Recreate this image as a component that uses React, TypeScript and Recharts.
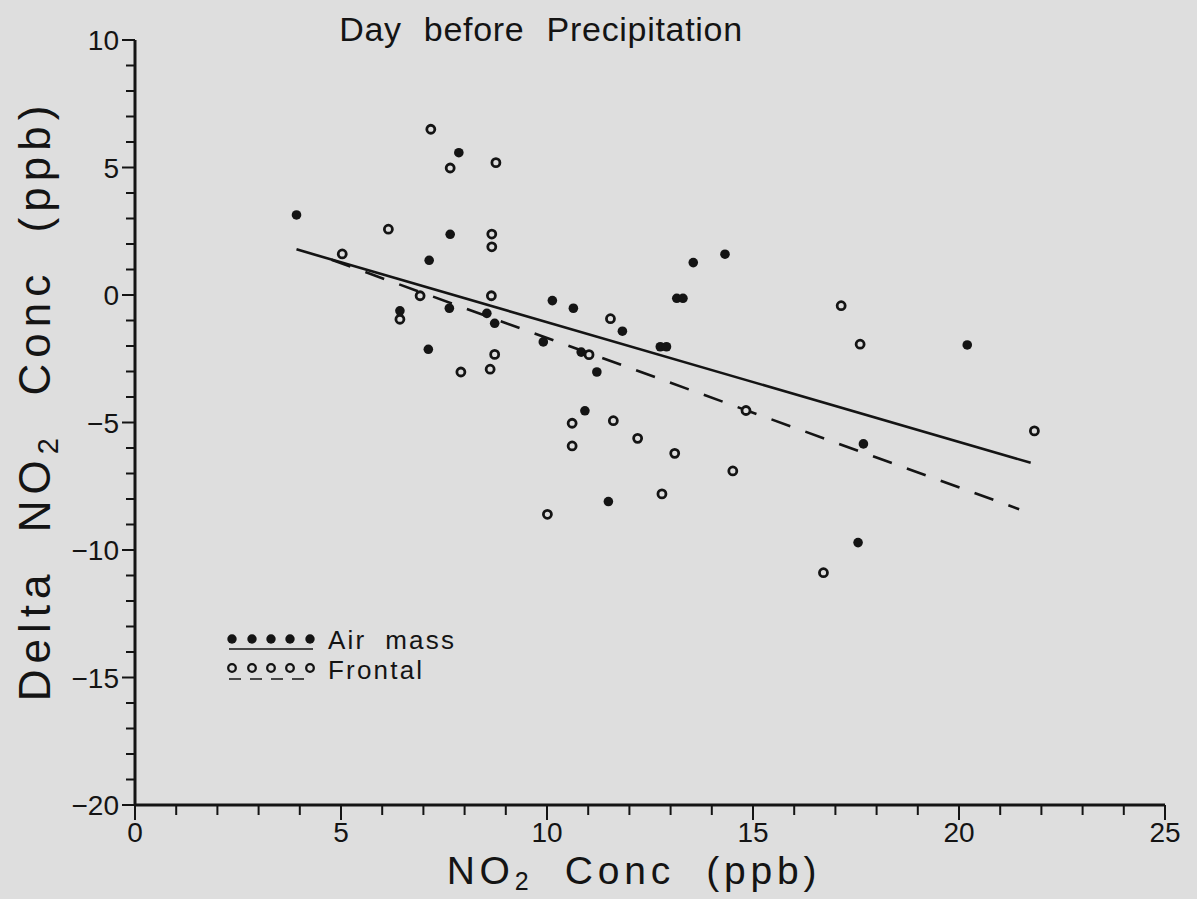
import React from 'react'
import { ScatterChart, Scatter, XAxis, YAxis, Label } from 'recharts'

const INK = '#141414'
const PAPER = '#dedede'
const FONT = '"Liberation Sans", Arial, sans-serif'

// filled dots
const airMass = [
  { x: 3.92, y: 3.14 }, { x: 7.86, y: 5.58 }, { x: 7.65, y: 2.38 }, { x: 7.14, y: 1.36 },
  { x: 6.43, y: -0.62 }, { x: 7.63, y: -0.52 }, { x: 8.54, y: -0.72 }, { x: 8.73, y: -1.11 },
  { x: 10.13, y: -0.22 }, { x: 9.91, y: -1.84 }, { x: 7.12, y: -2.13 }, { x: 13.55, y: 1.27 },
  { x: 14.32, y: 1.6 }, { x: 13.15, y: -0.13 }, { x: 13.3, y: -0.13 }, { x: 10.64, y: -0.52 },
  { x: 11.83, y: -1.42 }, { x: 12.75, y: -2.03 }, { x: 12.9, y: -2.03 }, { x: 10.83, y: -2.24 },
  { x: 11.21, y: -3.02 }, { x: 10.92, y: -4.54 }, { x: 11.49, y: -8.1 }, { x: 20.2, y: -1.96 },
  { x: 17.68, y: -5.84 }, { x: 17.55, y: -9.71 },
]

// open circles
const frontal = [
  { x: 7.18, y: 6.5 }, { x: 7.65, y: 4.98 }, { x: 8.76, y: 5.19 }, { x: 6.15, y: 2.58 },
  { x: 8.66, y: 2.39 }, { x: 8.66, y: 1.89 }, { x: 5.03, y: 1.61 }, { x: 6.92, y: -0.03 },
  { x: 8.65, y: -0.03 }, { x: 6.43, y: -0.95 }, { x: 8.73, y: -2.33 }, { x: 7.91, y: -3.02 },
  { x: 8.62, y: -2.91 }, { x: 11.54, y: -0.93 }, { x: 11.02, y: -2.34 }, { x: 10.61, y: -5.03 },
  { x: 11.61, y: -4.93 }, { x: 10.61, y: -5.92 }, { x: 12.2, y: -5.62 }, { x: 13.1, y: -6.21 },
  { x: 14.83, y: -4.53 }, { x: 14.51, y: -6.9 }, { x: 12.79, y: -7.8 }, { x: 10.01, y: -8.6 },
  { x: 17.14, y: -0.42 }, { x: 17.6, y: -1.93 }, { x: 21.83, y: -5.33 }, { x: 16.71, y: -10.89 },
]

const fitAirMass = [{ x: 3.92, y: 1.79 }, { x: 21.74, y: -6.58 }]
const fitFrontal = [{ x: 4.77, y: 1.38 }, { x: 21.46, y: -8.4 }]

const xTicks = [0, 1, 2, 3, 4, 5, 6, 7, 8, 9, 10, 11, 12, 13, 14, 15, 16, 17, 18, 19, 20, 21, 22, 23, 24, 25]
const yTicks = [-20, -19, -18, -17, -16, -15, -14, -13, -12, -11, -10, -9, -8, -7, -6, -5, -4, -3, -2, -1,
  0, 1, 2, 3, 4, 5, 6, 7, 8, 9, 10]

const fmt = (v: number) => (v < 0 ? `\u2212${Math.abs(v)}` : `${v}`)

const XTick = ({ x, y, payload }: any) => {
  const major = payload.value % 5 === 0
  return (
    <g>
      <line x1={x} y1={y} x2={x} y2={y + (major ? 15 : 10)} stroke={INK} strokeWidth={2} />
      {major && (
        <text x={x} y={y + 37} textAnchor="middle" fontSize={28} fontFamily={FONT} fill={INK}>
          {payload.value}
        </text>
      )}
    </g>
  )
}

const YTick = ({ x, y, payload }: any) => {
  const major = payload.value % 5 === 0
  return (
    <g>
      <line x1={x} y1={y} x2={x - (major ? 13 : 9)} y2={y} stroke={INK} strokeWidth={2} />
      {major && (
        <text x={x - 16} y={y + 10} textAnchor="end" fontSize={28} fontFamily={FONT} fill={INK}>
          {fmt(payload.value)}
        </text>
      )}
    </g>
  )
}

const FilledDot = (p: any) => <circle cx={p.cx} cy={p.cy} r={4.8} fill={INK} />
const OpenDot = (p: any) => (
  <circle cx={p.cx} cy={p.cy} r={4} fill={PAPER} stroke={INK} strokeWidth={2.8} />
)
const NoDot = () => <g />

const XTitle = (props: any) => {
  const vb = props.viewBox
  return (
    <text x={vb.x + vb.width / 2 - 16} y={vb.y + 79} textAnchor="middle" fontSize={39}
      fontFamily={FONT} fill={INK} letterSpacing={4.8} style={{ whiteSpace: 'pre' }}>
      <tspan>NO</tspan>
      <tspan dy={6} fontSize={25}>2</tspan>
      <tspan dy={-6}>  Conc  (ppb)</tspan>
    </text>
  )
}

const YTitle = (props: any) => {
  const vb = props.viewBox
  const cx = vb.x + 50
  const cy = vb.y + vb.height / 2 - 22
  return (
    <text x={cx} y={cy} transform={`rotate(-90, ${cx}, ${cy})`} textAnchor="middle" fontSize={44}
      fontFamily={FONT} fill={INK} letterSpacing={6} style={{ whiteSpace: 'pre' }}>
      <tspan>Delta  NO</tspan>
      <tspan dy={8} fontSize={29}>2</tspan>
      <tspan dy={-8}>  Conc  (ppb)</tspan>
    </text>
  )
}

const LegendBox = () => (
  <svg width={280} height={70} style={{ position: 'absolute', left: 220, top: 622 }}>
    {[12, 32, 51, 70, 90].map((cx) => (
      <circle key={`a${cx}`} cx={cx} cy={17} r={4.7} fill={INK} />
    ))}
    <line x1={9} y1={27} x2={93} y2={27} stroke={INK} strokeWidth={1.6} />
    <text x={108} y={27} fontSize={26} fontFamily={FONT} fill={INK} letterSpacing={2.2}
      style={{ whiteSpace: 'pre' }}>
      Air  mass
    </text>
    {[12, 32, 51, 70, 90].map((cx) => (
      <circle key={`f${cx}`} cx={cx} cy={46} r={3.8} fill={PAPER} stroke={INK} strokeWidth={2.3} />
    ))}
    <line x1={9} y1={57} x2={93} y2={57} stroke={INK} strokeWidth={1.6} strokeDasharray="12 9" />
    <text x={108} y={57} fontSize={26} fontFamily={FONT} fill={INK} letterSpacing={2.2}>
      Frontal
    </text>
  </svg>
)

export default function App() {
  return (
    <div style={{ position: 'absolute', left: 0, top: 0, width: 1197, height: 899, background: PAPER }}>
      <div style={{
        position: 'absolute', left: 0, top: 10, width: 1082, textAlign: 'center',
        fontFamily: FONT, fontSize: 34, color: INK, wordSpacing: 12, letterSpacing: 0.7
      }}>
        Day before Precipitation
      </div>
      <ScatterChart width={1197} height={899} margin={{ top: 40, right: 32, bottom: 0, left: 0 }}>
        <XAxis type="number" dataKey="x" domain={[0, 25]} ticks={xTicks} interval={0} height={94}
          tickSize={0} tickMargin={0} tickLine={false} tick={<XTick />}
          axisLine={{ stroke: INK, strokeWidth: 3 }} allowDataOverflow>
          <Label content={<XTitle />} />
        </XAxis>
        <YAxis type="number" dataKey="y" domain={[-20, 10]} ticks={yTicks} interval={0} width={135}
          tickSize={0} tickMargin={0} tickLine={false} tick={<YTick />}
          axisLine={{ stroke: INK, strokeWidth: 3 }} allowDataOverflow>
          <Label content={<YTitle />} />
        </YAxis>
        <Scatter name="Air mass fit" data={fitAirMass} shape={<NoDot />} isAnimationActive={false}
          line={{ stroke: INK, strokeWidth: 2.6 }} />
        <Scatter name="Frontal fit" data={fitFrontal} shape={<NoDot />} isAnimationActive={false}
          line={{ stroke: INK, strokeWidth: 2.6, strokeDasharray: '20 16' }} />
        <Scatter name="Air mass" data={airMass} shape={<FilledDot />} isAnimationActive={false} />
        <Scatter name="Frontal" data={frontal} shape={<OpenDot />} isAnimationActive={false} />
      </ScatterChart>
      <LegendBox />
    </div>
  )
}
